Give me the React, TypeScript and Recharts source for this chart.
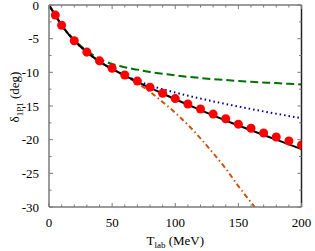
import React from "react";
import {
  ComposedChart,
  Line,
  Scatter,
  XAxis,
  YAxis,
  Label,
} from "recharts";

// lab energy grid (MeV) and phase shifts (deg)
const dotT = [5, 10, 20, 30, 40, 50, 60, 70, 80, 90, 100, 110, 120, 130, 140, 150, 160, 170, 180, 190, 200];
const dotV = [-1.5, -3.0, -5.3, -7.0, -8.3, -9.4, -10.4, -11.3, -12.2, -13.1, -13.9, -14.7, -15.45, -16.2, -16.9, -17.7, -18.3, -19.0, -19.6, -20.2, -20.8];

const solidT = [0, 5, 10, 20, 30, 40, 50, 60, 70, 80, 90, 100, 120, 140, 160, 180, 200];
const solidV = [0, -1.5, -3.0, -5.3, -7.0, -8.4, -9.5, -10.5, -11.4, -12.3, -13.15, -14.0, -15.6, -17.15, -18.6, -20.0, -21.4];

const curveT = [0, 10, 20, 30, 40, 50, 60, 70, 80, 90, 100, 120, 140, 160, 180, 200];
const dashedV = [0, -3.0, -5.2, -6.8, -8.0, -8.75, -9.25, -9.6, -9.95, -10.2, -10.45, -10.85, -11.15, -11.4, -11.6, -11.8];
const dottedV = [0, -3.0, -5.3, -7.0, -8.4, -9.5, -10.45, -11.25, -11.95, -12.5, -13.0, -13.9, -14.7, -15.45, -16.15, -16.8];

const dashDotT = [0, 10, 20, 30, 40, 50, 60, 70, 80, 90, 100, 110, 120, 130, 140, 150, 160, 163];
const dashDotV = [0, -3.0, -5.3, -7.0, -8.4, -9.5, -10.5, -11.6, -12.9, -14.4, -16.0, -17.8, -19.8, -22.0, -24.3, -26.9, -29.3, -30];

const xTicks = [0, 10, 20, 30, 40, 50, 60, 70, 80, 90, 100, 110, 120, 130, 140, 150, 160, 170, 180, 190, 200];
const yTicks = [0, -2.5, -5, -7.5, -10, -12.5, -15, -17.5, -20, -22.5, -25, -27.5, -30];

const pairs = (ts: number[], vs: number[]) => ts.map((t, i) => ({ t, v: vs[i] }));

const FONT = "'Liberation Serif', 'Times New Roman', Times, serif";
const AXIS = "#7a7a7a";

const BottomTick = (props: any) => {
  const { x, y, payload } = props;
  const major = payload.value % 50 === 0;
  return (
    <g>
      <line x1={x} y1={y} x2={x} y2={y - (major ? 4 : 2.5)} stroke={AXIS} />
      {major && (
        <text x={x} y={y + 20} textAnchor="middle" fontFamily={FONT} fontSize={13} fill="#000">
          {payload.value}
        </text>
      )}
    </g>
  );
};

const TopTick = (props: any) => {
  const { x, y, payload } = props;
  const major = payload.value % 50 === 0;
  return <line x1={x} y1={y} x2={x} y2={y + (major ? 4 : 2.5)} stroke={AXIS} />;
};

const LeftTick = (props: any) => {
  const { x, y, payload } = props;
  const major = payload.value % 5 === 0;
  return (
    <g>
      <line x1={x} y1={y} x2={x + (major ? 4 : 2.5)} y2={y} stroke={AXIS} />
      {major && (
        <text x={x - 10} y={y + 4.5} textAnchor="end" fontFamily={FONT} fontSize={13} fill="#000">
          {payload.value}
        </text>
      )}
    </g>
  );
};

const RightTick = (props: any) => {
  const { x, y, payload } = props;
  const major = payload.value % 5 === 0;
  return <line x1={x} y1={y} x2={x - (major ? 4 : 2.5)} y2={y} stroke={AXIS} />;
};

const XLabel = (props: any) => {
  const vb = props.viewBox || { x: 49, y: 207, width: 252 };
  return (
    <text x={vb.x + vb.width / 2} y={vb.y + 38} textAnchor="middle" fontFamily={FONT} fontSize={13} fill="#000">
      T<tspan fontSize={9} dy={3} fill="#000">lab</tspan>
      <tspan dy={-3} fill="#000"> (MeV)</tspan>
    </text>
  );
};

const YLabel = (props: any) => {
  const vb = props.viewBox || { x: 9, y: 5, height: 202 };
  const cx = vb.x + 10;
  const cy = vb.y + vb.height / 2 - 9;
  return (
    <text
      x={cx}
      y={cy}
      transform={`rotate(-90 ${cx} ${cy})`}
      textAnchor="middle"
      fontFamily={FONT}
      fontSize={13}
      fill="#000"
    >
      δ<tspan fontSize={9} dy={4} fill="#000">1P1</tspan>
      <tspan dy={-4} fill="#000"> (deg)</tspan>
    </text>
  );
};

export default function App() {
  return (
    <div style={{ position: "absolute", left: 0, top: 0, width: 315, height: 251, background: "#fff", fontFamily: FONT }}>
      <ComposedChart width={315} height={251} margin={{ top: 4, right: 12.5, bottom: 14, left: 9 }}>
        <XAxis
          xAxisId="b"
          dataKey="t"
          type="number"
          domain={[0, 200]}
          ticks={xTicks}
          interval={0}
          tickSize={0}
          tickMargin={0}
          tick={<BottomTick />}
          axisLine={{ stroke: AXIS, strokeWidth: 1.5 }}
          height={30}
          allowDataOverflow
        >
          <Label content={<XLabel />} />
        </XAxis>
        <XAxis
          xAxisId="t"
          dataKey="t"
          orientation="top"
          type="number"
          domain={[0, 200]}
          ticks={xTicks}
          interval={0}
          tickSize={0}
          tickMargin={0}
          tick={<TopTick />}
          axisLine={{ stroke: AXIS, strokeWidth: 1.5 }}
          height={1}
          allowDataOverflow
        />
        <YAxis
          yAxisId="l"
          dataKey="v"
          type="number"
          domain={[-30, 0]}
          ticks={yTicks}
          interval={0}
          tickSize={0}
          tickMargin={0}
          tick={<LeftTick />}
          axisLine={{ stroke: AXIS, strokeWidth: 1.5 }}
          width={40}
          allowDataOverflow
        >
          <Label content={<YLabel />} />
        </YAxis>
        <YAxis
          yAxisId="r"
          dataKey="v"
          orientation="right"
          type="number"
          domain={[-30, 0]}
          ticks={yTicks}
          interval={0}
          tickSize={0}
          tickMargin={0}
          tick={<RightTick />}
          axisLine={{ stroke: "#222", strokeWidth: 1.5 }}
          width={1}
          allowDataOverflow
        />
        {/* invisible series so the mirrored frame axes get drawn */}
        <Line
          xAxisId="t"
          yAxisId="r"
          data={pairs(solidT, solidV)}
          dataKey="v"
          stroke="none"
          dot={false}
          activeDot={false}
          isAnimationActive={false}
        />
        <Scatter
          xAxisId="b"
          yAxisId="l"
          data={pairs(dotT, dotV)}
          dataKey="v"
          fill="#ff0000"
          isAnimationActive={false}
        />
        <Line
          xAxisId="b"
          yAxisId="l"
          data={pairs(curveT, dashedV)}
          dataKey="v"
          type="monotone"
          stroke="#007000"
          strokeWidth={2}
          strokeDasharray="8 4"
          dot={false}
          activeDot={false}
          isAnimationActive={false}
        />
        <Line
          xAxisId="b"
          yAxisId="l"
          data={pairs(curveT, dottedV)}
          dataKey="v"
          type="monotone"
          stroke="#00008b"
          strokeWidth={2}
          strokeDasharray="1.5 3"
          dot={false}
          activeDot={false}
          isAnimationActive={false}
        />
        <Line
          xAxisId="b"
          yAxisId="l"
          data={pairs(dashDotT, dashDotV)}
          dataKey="v"
          type="monotone"
          stroke="#cc5210"
          strokeWidth={2}
          strokeDasharray="5 3 1.5 3"
          dot={false}
          activeDot={false}
          isAnimationActive={false}
        />
        <Line
          xAxisId="b"
          yAxisId="l"
          data={pairs(solidT, solidV)}
          dataKey="v"
          type="monotone"
          stroke="#000"
          strokeWidth={2}
          dot={false}
          activeDot={false}
          isAnimationActive={false}
        />
      </ComposedChart>
    </div>
  );
}
